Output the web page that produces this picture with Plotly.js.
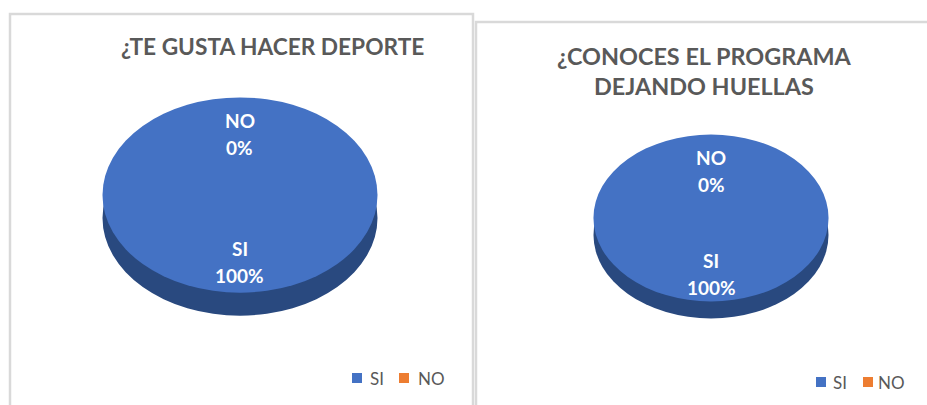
<!DOCTYPE html>
<html>
<head>
<meta charset="utf-8">
<script src="https://cdn.plot.ly/plotly-3.0.1.min.js"></script>
<style>
html,body{margin:0;padding:0;background:#fff;}
#chart{width:927px;height:405px;}
</style>
</head>
<body>
<div id="chart"></div>
<script>
// ---- data ----
const labels = ["SI", "NO"];
const deporteValues = [100, 0];
const programaValues = [100, 0];
const titleDeporte = "¿TE GUSTA HACER DEPORTE";
const titlePrograma = "¿CONOCES EL PROGRAMA<br>DEJANDO HUELLAS";
const sliceColors = ["#4472C4", "#ED7D31"];
const depthColors = ["#29497f", "#9c4f1c"];

// ---- layout geometry (pixels) ----
const W = 927, H = 405;
const K = 0.71; // vertical squash of the pie disc
const pies = [
  {values: deporteValues, cx: 240, cy: 195, r: 137.5, depth: 23, title: titleDeporte, tx: 272, ty: 47, tsize: 22.7,
   labelY: {NO: [120, 148], SI: [248, 275]},
   legendX: [352, 368, 399, 416], legendY: 378},
  {values: programaValues, cx: 711, cy: 218, r: 117.5, depth: 17, title: titlePrograma, tx: 704, ty: 71, tsize: 23.4,
   labelY: {NO: [157, 184], SI: [260, 287]},
   legendX: [816, 831, 863, 876], legendY: 382}
];
const px = x => x / W;
const py = y => 1 - y / H;

const font = "Lato, 'Open Sans', sans-serif";
const legendFont = "Lato, 'Open Sans', sans-serif";
const traces = [];
const annotations = [];
const depthTraces = [];
const shapes = [
  {type: "rect", xref: "paper", yref: "paper", x0: px(10), x1: px(473), y0: py(410), y1: py(14),
   line: {color: "#d9d9d9", width: 2.5}, fillcolor: "rgba(0,0,0,0)"},
  {type: "rect", xref: "paper", yref: "paper", x0: px(476), x1: px(935), y0: py(410), y1: py(22),
   line: {color: "#d9d9d9", width: 2.5}, fillcolor: "rgba(0,0,0,0)"}
];

pies.forEach((p, i) => {
  const dom = cy => ({x: [px(p.cx - p.r), px(p.cx + p.r)], y: [py(cy + p.r), py(cy - p.r)]});
  traces.push({
    type: "pie", labels: labels, values: p.values, sort: false, direction: "clockwise",
    marker: {colors: sliceColors, line: {width: 0}}, textinfo: "none", hoverinfo: "label+percent",
    domain: dom(p.cy), showlegend: false
  });
  depthTraces.push({
    type: "pie", labels: labels, values: p.values, sort: false, direction: "clockwise",
    marker: {colors: depthColors, line: {width: 0}}, textinfo: "none", hoverinfo: "skip",
    domain: dom(p.cy + p.depth), showlegend: false
  });
  // title
  annotations.push({text: p.title, x: px(p.tx), y: py(p.ty), xref: "paper", yref: "paper",
    showarrow: false, xanchor: "center", yanchor: "middle", align: "center",
    font: {family: font, size: p.tsize, color: "#595959", weight: "bold"}});
  // data labels computed from the values
  const total = p.values.reduce((a, b) => a + b, 0);
  const pct = p.values.map(v => Math.round(v / total * 100) + "%");
  labels.forEach((lab, j) => {
    const ys = p.labelY[lab];
    [lab, pct[j]].forEach((t, k) => {
      annotations.push({text: t, x: px(p.cx), y: py(ys[k]), xref: "paper", yref: "paper",
        showarrow: false, xanchor: "center", yanchor: "middle",
        font: {family: font, size: 19, color: "#ffffff", weight: "bold"}});
    });
  });
  // legend (manual, one per panel)
  labels.forEach((lab, j) => {
    const sx = p.legendX[j * 2], tx = p.legendX[j * 2 + 1];
    shapes.push({type: "rect", xref: "paper", yref: "paper",
      x0: px(sx), x1: px(sx + 10), y0: py(p.legendY + 5), y1: py(p.legendY - 5),
      line: {width: 0}, fillcolor: sliceColors[j]});
    annotations.push({text: lab, x: px(tx), y: py(p.legendY), xref: "paper", yref: "paper",
      showarrow: false, xanchor: "left", yanchor: "middle",
      font: {family: legendFont, size: 17, color: "#595959"}});
  });
});

const layout = {
  width: W, height: H, margin: {l: 0, r: 0, t: 0, b: 0},
  paper_bgcolor: "#ffffff", plot_bgcolor: "#ffffff",
  showlegend: false,
  shapes: shapes, annotations: annotations
};

const gd = document.getElementById("chart");
Plotly.newPlot(gd, depthTraces.concat(traces), layout, {displayModeBar: false, staticPlot: true}).then(() => {
  const groups = gd.querySelectorAll(".pielayer .trace");
  const centers = [pies[0].cy + pies[0].depth, pies[1].cy + pies[1].depth, pies[0].cy, pies[1].cy];
  groups.forEach((g, j) => {
    const cy = centers[j];
    g.setAttribute("transform", "translate(0," + (cy * (1 - K)) + ") scale(1," + K + ")");
  });
});
</script>
</body>
</html>
